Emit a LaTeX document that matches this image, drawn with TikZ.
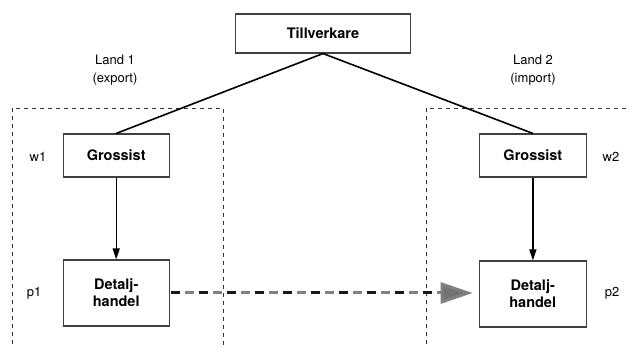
\documentclass[tikz,border=0pt]{standalone}
\usepackage{fontspec}
\setmainfont{TeX Gyre Heros}
\usetikzlibrary{arrows.meta}
\begin{document}
\begin{tikzpicture}[x=1pt,y=-1pt,
  box/.style={draw=black!75,line width=1.1pt,fill=white,inner sep=0pt,align=center,
    font=\fontsize{14.5}{17}\selectfont\bfseries},
  lbl/.style={inner sep=0pt,align=center,font=\fontsize{13}{18}\selectfont},
  link/.style={line width=1.6pt,black},
  flow/.style={line width=1.4pt,black,-{Triangle[width=7pt,length=11pt]}},
  region/.style={dash pattern=on 4pt off 4pt,line width=0.7pt,black!80},
  trade/.style={line width=3pt,dash pattern=on 9pt off 5pt,black!50,
    -{Triangle[width=21pt,length=32pt,fill=black!55]},shorten >=6pt},
  tradedark/.style={line width=3pt,dash pattern=on 9pt off 19pt,black!90}]
\useasboundingbox (0,0) rectangle (629,347);
\begin{scope}
\clip (0,0) rectangle (629,347);
\draw[region] (12,352) -- (12,108) -- (223,108) -- (223,352);
\draw[region] (426,352) -- (426,108) -- (640,108);
\end{scope}
\node[box,minimum width=175pt,minimum height=39pt] (till) at (323,33.5) {Tillverkare};
\node[box,minimum width=106pt,minimum height=43pt] (g1) at (116.2,155.5) {Grossist};
\node[box,minimum width=107pt,minimum height=43pt] (g2) at (532.9,155.5) {Grossist};
\node[box,minimum width=106pt,minimum height=66pt] (d1) at (116.2,293) {Detalj-\\handel};
\node[box,minimum width=107pt,minimum height=66pt] (d2) at (532.7,294) {Detalj-\\handel};
\node[lbl] (land1) at (115,70) {Land 1\\(export)};
\node[lbl] (land2) at (533,70) {Land 2\\(import)};
\node[lbl] (w1) at (38,157) {w1};
\node[lbl] (w2) at (611,157) {w2};
\node[lbl] (p1) at (34,293) {p1};
\node[lbl] (p2) at (612,293) {p2};
\draw[link] (till.south) -- (g1.north);
\draw[link] (till.south) -- (g2.north);
\draw[flow] (g1) -- (d1);
\draw[flow] (g2) -- (d2.north -| g2.south);
\coordinate (ts) at ([xshift=1.5pt]d1.east);
\coordinate (te) at ([xshift=-38pt]d2.west |- ts);
\draw[trade] (ts) -- (d2.west |- ts);
\draw[tradedark] (ts) -- (te);
\end{tikzpicture}
\end{document}
